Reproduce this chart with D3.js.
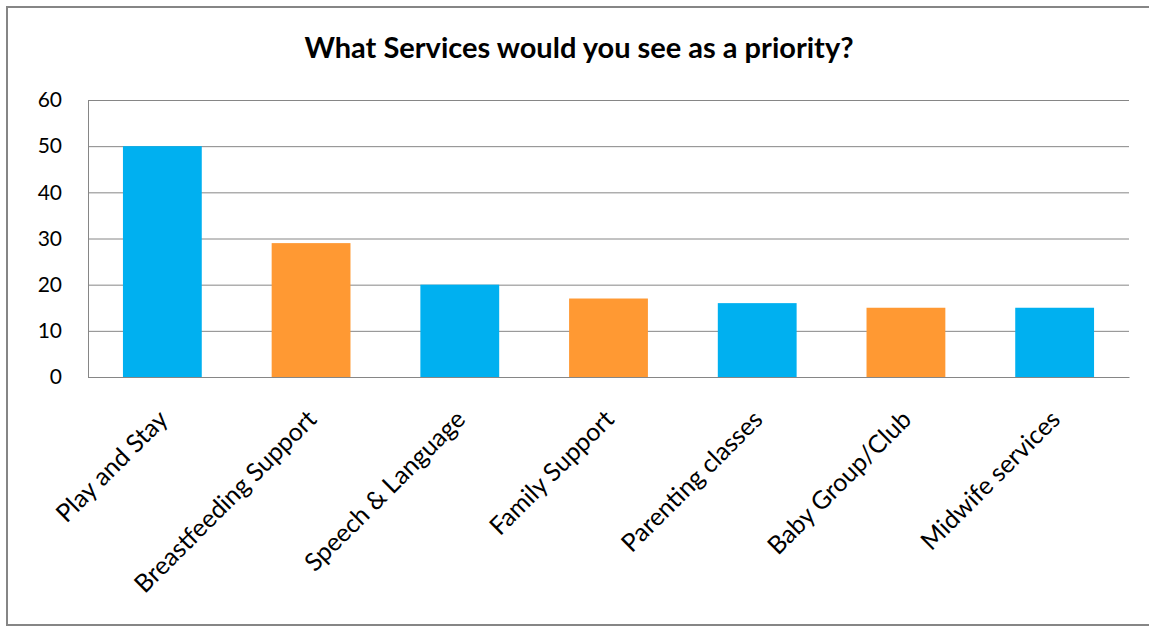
<!DOCTYPE html>
<html><head><meta charset="utf-8">
<script src="https://cdn.jsdelivr.net/npm/d3@7"></script>
<style>body{margin:0;background:#fff}svg{display:block}</style>
</head><body>
<svg id="c" width="1149" height="626"></svg>
<script>
const title = "What Services would you see as a priority?";
const categories = ["Play and Stay","Breastfeeding Support","Speech & Language","Family Support","Parenting classes","Baby Group/Club","Midwife services"];
const values = [50, 29, 20, 17, 16, 15, 15];
const barColors = ["#00B0F0","#FF9933","#00B0F0","#FF9933","#00B0F0","#FF9933","#00B0F0"];
const yTicks = [0, 10, 20, 30, 40, 50, 60];

const svg = d3.select("#c");
const font = "Lato, 'Open Sans', sans-serif";
const m = {left: 88, right: 1129, top: 100, bottom: 377};

svg.append("rect").attr("x", 7).attr("y", 7).attr("width", 1160).attr("height", 618)
  .attr("fill", "#fff").attr("stroke", "#868686").attr("stroke-width", 2);

svg.append("text").attr("x", 579).attr("y", 58).attr("text-anchor", "middle")
  .attr("font-family", font).attr("font-weight", "bold").attr("font-size", 29)
  .attr("fill", "#000").text(title);

const x = d3.scaleBand().domain(categories).range([m.left, m.right]).paddingInner(0.47).paddingOuter(0.235);
const y = d3.scaleLinear().domain([0, 60]).range([m.bottom, m.top]);

const yAxis = d3.axisLeft(y).tickValues(yTicks).tickSize(-(m.right - m.left)).tickPadding(26);
const gy = svg.append("g").attr("transform", `translate(${m.left},0)`).call(yAxis);
gy.select(".domain").attr("stroke", "#868686");
gy.selectAll(".tick line").attr("stroke", "#868686");
gy.selectAll(".tick text").attr("font-family", font).attr("font-size", 21).attr("fill", "#000");

svg.append("g").selectAll("rect").data(categories).join("rect")
  .attr("x", d => x(d)).attr("width", x.bandwidth())
  .attr("y", (d, i) => y(values[i])).attr("height", (d, i) => y(0) - y(values[i]))
  .attr("fill", (d, i) => barColors[i]);

const xAxis = d3.axisBottom(x).tickSize(0).tickPadding(0);
const gx = svg.append("g").attr("transform", `translate(0,${m.bottom})`).call(xAxis);
gx.select(".domain").attr("stroke", "#868686");
gx.selectAll(".tick text").attr("font-family", font).attr("font-size", 25).attr("fill", "#000")
  .attr("text-anchor", "end").attr("dy", 0).attr("y", 0)
  .attr("transform", "translate(7,44) rotate(-45)");
</script>
</body></html>
